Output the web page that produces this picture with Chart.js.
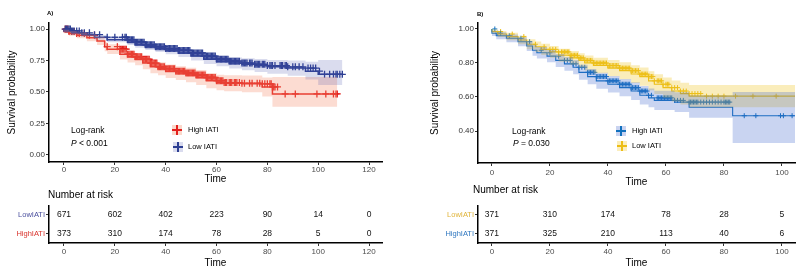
<!DOCTYPE html>
<html>
<head>
<meta charset="utf-8">
<script src="https://cdn.jsdelivr.net/npm/chart.js@4.4.1/dist/chart.umd.min.js"></script>
<style>
  body { margin: 0; width: 800px; height: 268px; position: relative; overflow: hidden; background: #fff;
         font-family: "Liberation Sans", Arial, sans-serif; }
  canvas { position: absolute; }
  .t { position: absolute; white-space: nowrap; color: #000; line-height: 10px; }
  .sw { position: absolute; width: 10px; height: 10px; }
  .sw i { position: absolute; left: 0; top: 4px; width: 10px; height: 1.5px; }
  .sw b { position: absolute; left: 4px; top: 0; width: 1.5px; height: 10px; }
</style>
</head>
<body>
<canvas id="kmA" width="400" height="190" style="left:0;top:0"></canvas>
<canvas id="riskA" width="400" height="70" style="left:0;top:200px"></canvas>
<canvas id="kmB" width="380" height="190" style="left:420px;top:0"></canvas>
<canvas id="riskB" width="380" height="70" style="left:420px;top:200px"></canvas>

<div class="t" style="left:47px;top:8px;font-size:6px;font-weight:bold">A)</div>
<div class="t" style="left:477px;top:9px;font-size:6px;font-weight:bold">B)</div>
<div class="t" style="left:71px;top:125px;font-size:8.5px">Log-rank</div>
<div class="t" style="left:71px;top:138px;font-size:8.5px"><i>P</i> &lt; 0.001</div>
<div class="t" style="left:512px;top:126px;font-size:8.5px">Log-rank</div>
<div class="t" style="left:513px;top:138px;font-size:8.5px"><i>P</i> = 0.030</div>
<div class="t" style="left:48px;top:190px;font-size:10px">Number at risk</div>
<div class="t" style="left:473px;top:185px;font-size:10px">Number at risk</div>
<div id="legends"></div>

<script>
// ---- panel A data ----
const groupNames = ['High IATI', 'Low IATI'];
const riskGroups = ['LowIATI', 'HighIATI'];

const xTicksA = [0, 20, 40, 60, 80, 100, 120];
const yTicksA = [0, 0.25, 0.5, 0.75, 1];

const timeA_low = [0, 3, 7, 12, 17, 25, 28, 32, 36, 40, 45, 50, 55, 60, 65, 70, 75, 80, 88, 95, 100, 101, 109.5];
const survA_low = [1.00, 0.985, 0.97, 0.955, 0.935, 0.915, 0.895, 0.875, 0.86, 0.845, 0.83, 0.81, 0.785, 0.76, 0.745, 0.73, 0.72, 0.71, 0.70, 0.69, 0.665, 0.64, 0.64];
const lowerA_low = [1.00, 0.976, 0.958, 0.94, 0.917, 0.895, 0.873, 0.851, 0.834, 0.817, 0.80, 0.778, 0.75, 0.722, 0.704, 0.686, 0.672, 0.658, 0.645, 0.63, 0.60, 0.556, 0.556];
const upperA_low = [1.00, 0.994, 0.982, 0.97, 0.953, 0.935, 0.917, 0.899, 0.886, 0.873, 0.86, 0.842, 0.82, 0.798, 0.786, 0.774, 0.768, 0.762, 0.755, 0.75, 0.74, 0.755, 0.755];
const censorA_low = [0.5, 1, 1.5, 2, 2.5, 3, 3.5, 4, 5, 6, 7, 8, 10, 12, 14, 17, 20, 23, 24, 24.5, 25, 25.5, 26, 26.5, 27, 27.5,
  28, 28.5, 29, 29.5, 30, 30.5, 31, 31.5, 32, 32.5, 33, 33.5, 34, 34.5, 35, 35.5, 36, 36.5, 37, 37.5, 38, 38.5, 39, 39.5,
  40, 40.5, 41, 41.5, 42, 42.5, 43, 43.5, 44, 44.5, 45, 45.5, 46, 46.5, 47, 47.5, 48, 48.5, 49, 49.5, 50, 50.5, 51, 51.5,
  52, 52.5, 53, 53.5, 54, 54.5, 55, 55.5, 56, 56.5, 57, 57.5, 58, 58.5, 59, 59.5, 60, 60.5, 61, 61.5, 62, 62.5, 63, 63.5,
  64, 64.5, 65, 65.5, 66, 66.5, 67, 67.5, 68, 68.5, 69, 70, 70.5, 71, 71.5, 72, 73, 73.5, 74, 75, 75.5, 76, 76.5, 77, 78,
  78.5, 79, 80, 81, 81.5, 82, 83, 85, 85.5, 86, 87, 87.5, 88, 90, 91, 92.5, 94, 96, 97, 98, 99,
  100.5, 102.5, 104.5, 106, 107, 107.5, 108.5, 109.5];

const timeA_high = [0, 2, 5, 9, 13, 16, 17, 22, 25, 28, 31, 34, 37, 40, 44, 48, 52, 56, 60, 63, 70, 78, 82, 85, 107.5];
const survA_high = [1.00, 0.98, 0.965, 0.95, 0.93, 0.905, 0.86, 0.84, 0.80, 0.78, 0.76, 0.73, 0.70, 0.685, 0.665, 0.65, 0.635, 0.615, 0.59, 0.575, 0.57, 0.565, 0.54, 0.485, 0.485];
const lowerA_high = [1.00, 0.966, 0.946, 0.927, 0.903, 0.874, 0.824, 0.801, 0.758, 0.735, 0.713, 0.681, 0.649, 0.633, 0.611, 0.595, 0.578, 0.556, 0.53, 0.513, 0.506, 0.498, 0.465, 0.383, 0.383];
const upperA_high = [1.00, 0.994, 0.984, 0.973, 0.957, 0.936, 0.896, 0.879, 0.842, 0.825, 0.807, 0.779, 0.751, 0.737, 0.719, 0.705, 0.692, 0.674, 0.65, 0.637, 0.634, 0.632, 0.615, 0.62, 0.62];
const censorA_high = [0.5, 1, 1.5, 2, 3, 4, 5, 6, 8, 10, 12, 17, 21, 22, 22.5, 23, 23.5, 24, 24.5, 25, 25.5, 26, 26.5, 27, 27.5,
  28, 28.5, 29, 29.5, 30, 30.5, 31, 31.5, 32, 32.5, 33, 33.5, 34, 34.5, 35, 35.5, 36, 36.5, 37, 37.5, 38, 38.5, 39, 39.5,
  40, 40.5, 41, 41.5, 42, 42.5, 43, 43.5, 44, 44.5, 45, 45.5, 46, 46.5, 47, 47.5, 48, 48.5, 49, 49.5, 50, 50.5, 51, 51.5,
  52, 52.5, 53, 53.5, 54, 54.5, 55, 55.5, 56, 56.5, 57, 57.5, 58, 58.5, 59, 59.5, 60, 60.5, 61, 61.5, 62, 62.5, 63, 63.5,
  64, 65, 65.5, 66, 67, 67.5, 68, 69, 70, 71, 73, 74, 76, 77, 78, 79, 80, 81, 81.5, 82, 82.5, 83, 84, 87, 91,
  99.5, 103, 106, 107, 107.5];

const riskA_low = [671, 602, 402, 223, 90, 14, 0];
const riskA_high = [373, 310, 174, 78, 28, 5, 0];

// ---- panel B data ----
const xTicksB = [0, 20, 40, 60, 80, 100];
const yTicksB = [0.4, 0.6, 0.8, 1.0];

const timeB_high = [0, 1.5, 5, 9, 12, 14, 15.5, 19, 22, 25, 28, 30, 33, 36, 40, 44, 48, 51, 54, 56, 63, 68, 83, 85, 105];
const survB_high = [1.00, 0.975, 0.96, 0.945, 0.925, 0.90, 0.875, 0.86, 0.84, 0.815, 0.795, 0.775, 0.745, 0.72, 0.695, 0.675, 0.655, 0.635, 0.61, 0.595, 0.58, 0.57, 0.54, 0.49, 0.49];
const lowerB_high = [1.00, 0.959, 0.94, 0.922, 0.899, 0.871, 0.843, 0.826, 0.804, 0.777, 0.755, 0.733, 0.701, 0.675, 0.648, 0.626, 0.604, 0.583, 0.556, 0.54, 0.524, 0.512, 0.478, 0.33, 0.33];
const upperB_high = [1.00, 0.991, 0.98, 0.968, 0.951, 0.929, 0.907, 0.894, 0.876, 0.853, 0.835, 0.817, 0.789, 0.765, 0.742, 0.724, 0.706, 0.687, 0.664, 0.65, 0.636, 0.628, 0.61, 0.63, 0.63];
const censorB_high = [1, 2, 3, 6, 10, 13, 17, 20, 23, 25, 26, 27, 28, 29, 30, 31, 32, 33, 33.5, 34, 34.5, 35, 35.5, 36, 36.5,
  37, 37.5, 38, 38.5, 39, 39.5, 40, 40.5, 41, 41.5, 42, 42.5, 43, 43.5, 44, 44.5, 45, 45.5, 46, 46.5, 47, 47.5, 48, 48.5,
  49, 49.5, 50, 50.5, 51, 51.5, 52, 52.5, 53, 53.5, 54, 55, 57, 57.5, 58, 58.5, 59, 59.5, 60, 60.5, 61, 61.5, 62, 63, 64,
  65, 66, 68, 68.5, 69, 69.5, 70, 70.5, 71, 72, 73, 74, 75, 76, 77, 78, 79, 80, 80.5, 81, 81.5, 82, 87, 91, 99.5, 100.5, 103.5];

const timeB_low = [0, 2, 5, 9, 12, 15, 17, 20, 23, 27, 30, 32, 35, 40, 44, 48, 51, 54, 56, 59, 62, 65, 68, 73, 105];
const survB_low = [1.00, 0.985, 0.97, 0.955, 0.935, 0.91, 0.895, 0.88, 0.865, 0.845, 0.83, 0.815, 0.80, 0.785, 0.77, 0.755, 0.735, 0.72, 0.695, 0.675, 0.655, 0.635, 0.62, 0.605, 0.605];
const lowerB_low = [1.00, 0.973, 0.952, 0.933, 0.91, 0.881, 0.864, 0.847, 0.83, 0.807, 0.79, 0.773, 0.756, 0.739, 0.722, 0.705, 0.683, 0.666, 0.639, 0.617, 0.595, 0.573, 0.556, 0.54, 0.54];
const upperB_low = [1.00, 0.997, 0.988, 0.977, 0.96, 0.939, 0.926, 0.913, 0.90, 0.883, 0.87, 0.857, 0.844, 0.831, 0.818, 0.805, 0.787, 0.774, 0.751, 0.733, 0.715, 0.697, 0.684, 0.67, 0.67];
const censorB_low = [3, 7, 11, 15, 18, 20, 21, 22, 23, 24, 24.5, 25, 25.5, 26, 26.5, 27, 27.5, 28, 28.5, 29, 29.5, 30, 30.5,
  31, 31.5, 32, 32.5, 33, 33.5, 34, 34.5, 35, 35.5, 36, 36.5, 37, 37.5, 38, 38.5, 39, 39.5, 40, 40.5, 41, 41.5, 42, 42.5,
  43, 43.5, 44, 44.5, 45, 45.5, 46, 46.5, 47, 47.5, 48, 48.5, 49, 49.5, 50, 50.5, 51, 51.5, 52, 52.5, 53, 53.5, 54, 54.5,
  55, 55.5, 56, 57, 57.5, 58, 58.5, 59, 60, 60.5, 61, 62, 63, 64, 65, 66, 67, 68, 69, 70, 71, 72, 74, 76, 78, 80, 84, 90, 98];

const riskB_low = [371, 310, 174, 78, 28, 5];
const riskB_high = [371, 325, 210, 113, 40, 6];

// colours
const redA = '#e31f1c', blueA = '#2d3f93';
const blueB = '#1170be', yellowB = '#ecbd15';

Chart.defaults.font.family = '"Liberation Sans", Arial, sans-serif';

function stepAt(times, surv, t) {
  let s = surv[0];
  for (let i = 0; i < times.length; i++) if (times[i] <= t) s = surv[i];
  return s;
}
function pts(times, vals) { return times.map((t, i) => ({ x: t, y: vals[i] })); }

function kmChart(id, o) {
  const sets = [];
  o.groups.forEach(g => {
    sets.push({ data: pts(g.t, g.hi), borderColor: 'transparent', borderWidth: 0, pointRadius: 0, stepped: 'after', fill: false });
    sets.push({ data: pts(g.t, g.lo), borderColor: 'transparent', borderWidth: 0, pointRadius: 0, stepped: 'after', fill: '-1', backgroundColor: g.band });
  });
  o.groups.forEach(g => sets.push({ data: pts(g.t, g.s), borderColor: g.color, borderWidth: o.lw, pointRadius: 0, stepped: 'after', fill: false }));
  o.groups.forEach(g => sets.push({
    data: g.c.map(t => ({ x: t, y: stepAt(g.t, g.s, t) })), showLine: false, pointStyle: 'cross',
    pointRadius: o.mr, pointBorderWidth: o.mw, pointBorderColor: g.color, borderColor: g.color
  }));
  return new Chart(document.getElementById(id), {
    type: 'line',
    data: { datasets: sets },
    options: {
      responsive: false, animation: false, events: [],
      layout: { padding: { top: 23, right: o.padR, left: 0, bottom: 0 } },
      plugins: { legend: { display: false }, tooltip: { enabled: false } },
      scales: {
        x: {
          type: 'linear', min: o.xMin, max: o.xMax,
          afterBuildTicks: s => { s.ticks = o.xTicks.map(v => ({ value: v })); },
          afterFit: s => { s.height = o.xH; },
          grid: { drawOnChartArea: false, tickLength: 3, tickColor: '#333' },
          border: { color: '#000', width: 1.5 },
          ticks: { color: '#4d4d4d', font: { size: 8 }, padding: o.xPad, maxRotation: 0 },
          title: { display: true, text: 'Time', color: '#000', font: { size: 10 }, padding: { top: 0, bottom: o.titlePad } }
        },
        y: {
          min: o.yMin, max: o.yMax,
          afterBuildTicks: s => { s.ticks = o.yTicks.map(v => ({ value: v })); },
          afterFit: s => { s.width = o.yW; },
          grid: { drawOnChartArea: false, tickLength: 3, tickColor: '#333' },
          border: { color: '#000', width: 1.5 },
          ticks: { color: '#333', font: { size: 8 }, padding: 1, callback: v => v.toFixed(2) },
          title: { display: true, text: 'Survival probability', color: '#000', font: { size: 10 }, padding: { top: o.yTitlePad, bottom: 0 } }
        }
      }
    }
  });
}

function riskChart(id, o) {
  return new Chart(document.getElementById(id), {
    type: 'line',
    data: { datasets: [] },
    options: {
      responsive: false, animation: false, events: [],
      layout: { padding: { top: 5, right: o.padR, left: 0, bottom: 0 } },
      plugins: { legend: { display: false }, tooltip: { enabled: false } },
      scales: {
        x: {
          type: 'linear', min: o.xMin, max: o.xMax,
          afterBuildTicks: s => { s.ticks = o.xTicks.map(v => ({ value: v })); },
          afterFit: s => { s.height = 27; },
          grid: { drawOnChartArea: false, tickLength: 3, tickColor: '#333' },
          border: { color: '#000', width: 1.5 },
          ticks: { color: '#4d4d4d', font: { size: 8 }, padding: 1, maxRotation: 0 },
          title: { display: true, text: 'Time', color: '#000', font: { size: 10 }, padding: { top: 0, bottom: 1 } }
        },
        y: {
          type: 'category', labels: riskGroups, offset: true,
          afterFit: s => { s.width = o.yW; },
          grid: { drawOnChartArea: false, tickLength: 3, tickColor: '#333' },
          border: { color: '#000', width: 1.5 },
          ticks: { color: c => o.labelColors[c.index], font: { size: 7.5 }, padding: 1 }
        }
      }
    },
    plugins: [{
      id: 'riskNumbers',
      afterDraw(chart) {
        const ctx = chart.ctx, xs = chart.scales.x, ys = chart.scales.y;
        ctx.save();
        ctx.font = '8.5px "Liberation Sans", Arial, sans-serif';
        ctx.fillStyle = '#111';
        ctx.textAlign = 'center';
        ctx.textBaseline = 'middle';
        o.rows.forEach((row, i) => {
          row.forEach((n, j) => ctx.fillText(String(n), xs.getPixelForValue(o.xTicks[j]), ys.getPixelForValue(i)));
        });
        ctx.restore();
      }
    }]
  });
}

const xMinA = -5.9, xMaxA = 125.1;
const xMinB = -4.8, xMaxB = 104.5;

kmChart('kmA', {
  xMin: xMinA, xMax: xMaxA, xTicks: xTicksA, yMin: -0.056, yMax: 1.048, yTicks: yTicksA,
  yW: 49, xH: 28, padR: 18, xPad: 0, titlePad: 5, yTitlePad: 6, lw: 1.5, mr: 3.5, mw: 1.3,
  groups: [
    { t: timeA_low, s: survA_low, lo: lowerA_low, hi: upperA_low, c: censorA_low, color: blueA, band: 'rgba(70,80,170,0.2)' },
    { t: timeA_high, s: survA_high, lo: lowerA_high, hi: upperA_high, c: censorA_high, color: redA, band: 'rgba(245,140,105,0.3)' }
  ]
});
riskChart('riskA', {
  xMin: xMinA, xMax: xMaxA, xTicks: xTicksA, yW: 49, padR: 18,
  rows: [riskA_low, riskA_high], labelColors: ['#4b509e', '#d9332c']
});

kmChart('kmB', {
  xMin: xMinB, xMax: xMaxB, xTicks: xTicksB, yMin: 0.212, yMax: 1.035, yTicks: yTicksB,
  yW: 58, xH: 27, padR: 5, xPad: 2, titlePad: 2, yTitlePad: 9, lw: 1.1, mr: 2.5, mw: 1,
  groups: [
    { t: timeB_high, s: survB_high, lo: lowerB_high, hi: upperB_high, c: censorB_high, color: blueB, band: 'rgba(60,100,205,0.28)' },
    { t: timeB_low, s: survB_low, lo: lowerB_low, hi: upperB_low, c: censorB_low, color: yellowB, band: 'rgba(240,195,30,0.3)' }
  ]
});
riskChart('riskB', {
  xMin: xMinB, xMax: xMaxB, xTicks: xTicksB, yW: 58, padR: 5,
  rows: [riskB_low, riskB_high], labelColors: ['#e0b43a', '#2f77c0']
});

// legends inside the plots
const legendSpots = [
  { x: 172, y: 125, tx: 188, color: redA, band: '#fbd8cb', name: groupNames[0] },
  { x: 173, y: 142, tx: 188, color: blueA, band: '#d9dbee', name: groupNames[1] },
  { x: 616, y: 126, tx: 632, color: blueB, band: '#c9d3f0', name: groupNames[0] },
  { x: 617, y: 141, tx: 632, color: yellowB, band: '#fbeebd', name: groupNames[1] }
];
const lg = document.getElementById('legends');
legendSpots.forEach(p => {
  lg.insertAdjacentHTML('beforeend',
    `<div class="sw" style="left:${p.x}px;top:${p.y}px;background:${p.band}"><i style="background:${p.color}"></i><b style="background:${p.color}"></b></div>` +
    `<div class="t" style="left:${p.tx}px;top:${p.y}px;font-size:7.5px">${p.name}</div>`);
});
</script>
</body>
</html>
